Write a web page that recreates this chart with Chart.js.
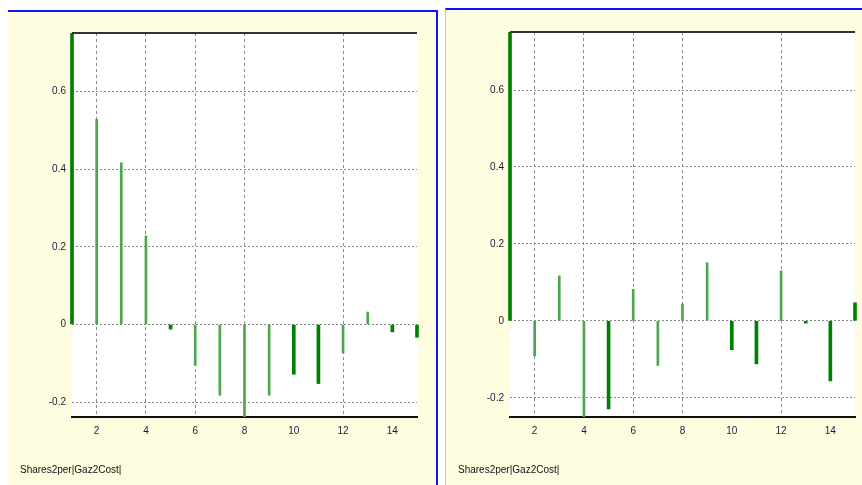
<!DOCTYPE html>
<html>
<head>
<meta charset="utf-8">
<script src="https://cdn.jsdelivr.net/npm/chart.js@4"></script>
<style>
    body { margin: 0; background: #fff; width: 862px; height: 485px; overflow: hidden; position: relative; }
    .panel { position: absolute; background: #fffde0; }
    #leftPanel { left: 8px; top: 10px; width: 428px; height: 473px; border-top: 2px solid #1010ff; border-right: 2px solid #1010ff; }
    #rightPanel { left: 445px; top: 8px; width: 416px; height: 475px; border-top: 2px solid #1010ff; border-left: 1px solid #b8c0f0; }
    canvas { display: block; }
</style>
</head>
<body>
<div class="panel" id="leftPanel"><canvas id="leftChart" width="428" height="473"></canvas></div>
<div class="panel" id="rightPanel"><canvas id="rightChart" width="416" height="475"></canvas></div>
<script>
// Correlogram data (lag -> coefficient)
const lags = [1, 2, 3, 4, 5, 6, 7, 8, 9, 10, 11, 12, 13, 14, 15];
const leftValues = [1.0, 0.528, 0.416, 0.228, -0.012, -0.105, -0.182, -0.25, -0.182, -0.128, -0.152, -0.073, 0.032, -0.019, -0.033];
const rightValues = [1.0, -0.091, 0.117, -0.26, -0.229, 0.082, -0.116, 0.044, 0.151, -0.075, -0.112, 0.13, -0.006, -0.156, 0.047];
const yTicks = [-0.2, 0, 0.2, 0.4, 0.6];
const xTicks = [2, 4, 6, 8, 10, 12, 14];
const seriesName = 'Shares2per|Gaz2Cost|';

// style: which lags are drawn with the heavy stroke, which x grid lines are missing
const heavyLeft = [1, 5, 10, 11, 14, 15];
const heavyRight = [1, 5, 10, 11, 13, 14, 15];
const hiddenXGrid = [10, 14];

const FONT = "'Liberation Sans Narrow', 'Liberation Sans', Arial, sans-serif";

// white plot area + dark top frame line
const frame = {
    id: 'frame',
    beforeDraw(chart) {
        const a = chart.chartArea, ctx = chart.ctx;
        ctx.save();
        ctx.fillStyle = '#ffffff';
        ctx.fillRect(a.left, a.top, a.right - a.left, a.bottom - a.top);
        ctx.restore();
    },
    afterDraw(chart) {
        const a = chart.chartArea, ctx = chart.ctx;
        ctx.save();
        ctx.strokeStyle = '#333333';
        ctx.lineWidth = 2;
        ctx.beginPath();
        ctx.moveTo(a.left, a.top);
        ctx.lineTo(a.right, a.top);
        ctx.stroke();
        ctx.restore();
    }
};

function makeConfig(values, heavy, yMin, yMax, pad) {
    const points = lags.map((l, i) => ({ x: l, y: values[i] }));
    return {
        type: 'bar',
        data: {
            datasets: [{
                label: 'thin',
                data: points.filter(p => !heavy.includes(p.x)),
                backgroundColor: '#4ca64c',
                barThickness: 2,
                grouped: false,
                clip: { left: 3, right: 3, top: 0, bottom: 0 }
            }, {
                label: 'heavy',
                data: points.filter(p => heavy.includes(p.x)),
                backgroundColor: '#008000',
                barThickness: 3,
                grouped: false,
                clip: { left: 3, right: 3, top: 0, bottom: 0 }
            }]
        },
        options: {
            responsive: false,
            animation: false,
            layout: { padding: pad },
            scales: {
                x: {
                    type: 'linear',
                    min: 1,
                    max: 15,
                    offset: false,
                    afterFit: s => { s.height = 47; },
                    afterBuildTicks: s => { s.ticks = xTicks.map(v => ({ value: v })); },
                    ticks: { padding: 8, color: '#1a1a40', font: { family: FONT, size: 10 } },
                    grid: {
                        offset: false,
                        drawTicks: false,
                        color: c => hiddenXGrid.includes(c.tick && c.tick.value) ? 'rgba(0,0,0,0)' : '#8a8a8a'
                    },
                    border: { color: '#111111', width: 2, dash: [3, 3] }
                },
                y: {
                    min: yMin,
                    max: yMax,
                    afterFit: s => { s.width = 52; },
                    afterBuildTicks: s => { s.ticks = yTicks.map(v => ({ value: v })); },
                    ticks: {
                        padding: 6,
                        color: '#1a1a40',
                        font: { family: FONT, size: 10 },
                        callback: v => v === 0 ? '0' : v.toFixed(1)
                    },
                    grid: { drawTicks: false, color: '#8a8a8a' },
                    border: { display: false, dash: [2, 2] }
                }
            },
            plugins: {
                legend: { display: false },
                tooltip: { enabled: false },
                title: {
                    display: true,
                    position: 'bottom',
                    align: 'start',
                    text: seriesName,
                    color: '#111111',
                    font: { family: FONT, size: 10, weight: 'normal' },
                    padding: { top: 0, bottom: 9 }
                }
            }
        },
        plugins: [frame]
    };
}

new Chart(document.getElementById('leftChart').getContext('2d'),
    makeConfig(leftValues, heavyLeft, -0.238, 0.75, { top: 21, left: 12, right: 19, bottom: 0 }));
new Chart(document.getElementById('rightChart').getContext('2d'),
    makeConfig(rightValues, heavyRight, -0.25, 0.751, { top: 22, left: 12, right: 7, bottom: 0 }));
</script>
</body>
</html>
